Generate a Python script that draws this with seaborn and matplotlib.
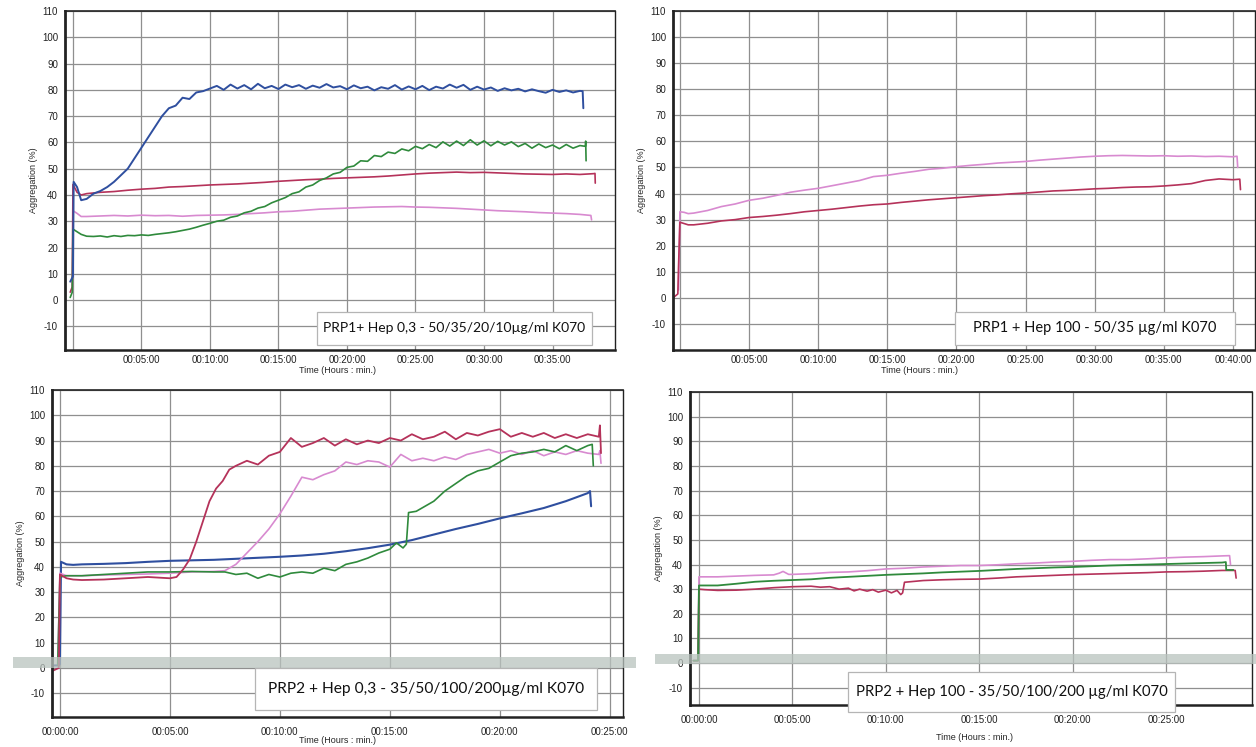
import numpy as np
import matplotlib
matplotlib.use("Agg")
import matplotlib.pyplot as plt
import seaborn as sns
from matplotlib.patches import Rectangle
from matplotlib.ticker import MultipleLocator

# -----------------------------
# Data (time in minutes, aggregation in %)
# -----------------------------
def grid(a, b, step=0.5):
    # regular sampling times used when reading the traces
    return [round(x, 2) for x in np.arange(a, b + step / 2, step)]

# Panel 1: PRP1 + Hep 0,3
p1_blue_t = [-0.2, 0.0, 0.05, 0.3, 0.6, 1.0] + grid(1.5, 37.0) + [37.2, 37.25]
p1_blue_v = [7, 9, 45, 43, 38, 38.5,
             40.5, 41.5, 43, 45, 47.5, 50, 54, 58, 62, 66, 70, 73, 74, 77, 76.5, 79, 79.5, 80.5,
             81.5, 80, 82, 80.5, 81.8, 80.2, 82.3, 80.6, 81.5, 80.3, 82, 81, 81.8, 80.4, 81.6, 80.8,
             82.2, 80.9, 81.4, 80.2, 81.7, 80.6, 81.2, 79.8, 81, 80.4, 81.8, 80.1, 81.3, 80.2, 81.5,
             79.9, 81.2, 80.5, 82, 80.8, 81.9, 80, 81.2, 80.1, 80.9, 79.6, 80.6, 79.8, 80.4, 79.4,
             80.2, 79.5, 78.9, 80, 79.2, 79.8, 79, 79.6,
             79.5, 73]
p1_green_t = [-0.2, -0.05, 0.0, 0.3, 0.6, 1.0] + grid(1.5, 37.0) + [37.4, 37.42, 37.45]
p1_green_v = [1, 3, 27, 26, 25, 24.3,
              24.2, 24.4, 24, 24.5, 24.2, 24.6, 24.5, 24.8, 24.6, 25, 25.3, 25.6, 26, 26.5, 27, 27.7,
              28.5, 29.2, 30, 30.4, 31.5, 32, 33.2, 33.8, 35, 35.6, 37, 38, 39, 40.5, 41.2, 43, 43.8,
              45.5, 46.5, 48, 48.6, 50.5, 51, 53, 52.8, 55, 54.6, 56.3, 55.8, 57.5, 56.8, 58.5, 57.6,
              59.2, 58, 60.2, 58.6, 60.5, 58.8, 61, 59, 60.6, 58.7, 60.4, 59, 60.2, 58.4, 59.6, 57.8,
              59.4, 58, 59, 57.6, 59.2, 57.8, 58.8,
              58.5, 60.5, 53]
p1_red_t = [-0.2, -0.05, 0.0, 0.3, 0.6] + grid(1, 38, 1) + [38.1, 38.12]
p1_red_v = [3, 5, 44, 41, 40,
            40.5, 41, 41.3, 41.8, 42.2, 42.5, 43, 43.2, 43.5, 43.8, 44, 44.2, 44.5, 44.8, 45.2,
            45.5, 45.8, 46, 46.3, 46.5, 46.7, 46.9, 47.2, 47.6, 48, 48.3, 48.5, 48.7, 48.5, 48.6,
            48.4, 48.2, 48, 47.9, 47.8, 48, 47.8, 48.1,
            48.2, 44.5]
p1_pink_t = [-0.05, 0.0, 0.3, 0.6] + grid(1, 37, 1) + [37.8, 37.85]
p1_pink_v = [3, 34, 33, 31.8,
             31.8, 32, 32.2, 32, 32.3, 32.1, 32.2, 31.9, 32.2, 32.3, 32.4, 32.6, 32.9, 33.2, 33.6,
             33.8, 34.2, 34.6, 34.8, 35, 35.2, 35.4, 35.5, 35.6, 35.4, 35.3, 35.1, 34.9, 34.6, 34.3,
             34, 33.8, 33.6, 33.3, 33.1, 32.9, 32.6,
             32.2, 30.5]

# Panel 2: PRP1 + Hep 100
p2_red_t = [-0.5, -0.15, -0.1, 0.0, 0.3, 0.6] + grid(1, 40, 1) + [40.5, 40.55]
p2_red_v = [0, 1.5, 12, 29, 28.5, 28,
            28, 28.6, 29.5, 30, 30.8, 31.2, 31.7, 32.3, 33, 33.5, 34, 34.6, 35.2, 35.7, 36, 36.6,
            37.1, 37.6, 38, 38.4, 38.8, 39.2, 39.5, 39.9, 40.2, 40.6, 41, 41.2, 41.5, 41.8, 42,
            42.3, 42.5, 42.6, 42.9, 43.3, 43.8, 45, 45.6, 45.3,
            45.5, 41.5]
p2_pink_t = [-0.1, 0.0, 0.3, 0.6] + grid(1, 40, 1) + [40.3, 40.35]
p2_pink_v = [3, 33, 32.8, 32.3,
             32.5, 33.5, 35, 36, 37.4, 38.2, 39.3, 40.5, 41.3, 42, 43, 44, 45, 46.5, 47, 47.8, 48.5,
             49.3, 49.7, 50.3, 50.8, 51.2, 51.7, 52, 52.3, 52.8, 53.2, 53.6, 54, 54.3, 54.5, 54.6,
             54.5, 54.4, 54.5, 54.3, 54.4, 54.2, 54.3, 54.1,
             54.3, 50]

# Panel 3: PRP2 + Hep 0,3
p3_blue_t = [-0.3, -0.05, 0.0, 0.05, 0.3, 0.6] + grid(1, 24, 1) + [24.1, 24.15]
p3_blue_v = [1, 1, 1.5, 42, 41, 40.8,
             41, 41.2, 41.5, 42, 42.4, 42.6, 42.8, 43.2, 43.6, 44, 44.5, 45.2, 46.2, 47.4, 48.8,
             50.6, 52.8, 55, 57, 59.2, 61.2, 63.3, 66, 69.2,
             70, 64]
p3_red_t = [-0.3, -0.05, 0.0, 0.3, 0.6, 1, 2, 3, 4, 5, 5.3, 5.6, 5.9, 6.2, 6.5, 6.8, 7.1, 7.4,
            7.7, 8.0] + grid(8.5, 24.5) + [24.55, 24.6]
p3_red_v = [-1, 0, 37, 35.5, 35, 34.8, 35, 35.5, 36, 35.5, 36, 39, 43, 50, 58, 66, 71, 74, 78.5, 80,
            82, 80.5, 84, 85.5, 91, 87.5, 89, 91, 88, 90.5, 88.5, 90, 89, 91, 90, 92.5, 90.5, 91.5,
            93.5, 90.5, 93, 92, 93.5, 94.5, 91.5, 93, 91.5, 93, 91, 92.5, 91, 92.5, 91.5,
            96, 85]
p3_pink_t = [-0.1, 0.0, 0.3, 1, 2, 3, 4, 5, 6, 7, 7.5] + grid(8, 24.5) + [24.55, 24.6]
p3_pink_v = [1, 37.5, 36.5, 36.5, 36.8, 37, 37.2, 37.5, 38, 38.2, 38.5,
             41, 45.5, 50, 55, 61, 68, 75.5, 74.5, 76.5, 78, 81.5, 80.5, 82, 81.5, 79.5, 84.5, 82,
             83, 82, 83.5, 82.5, 84.5, 85.5, 86.5, 85, 86, 84.5, 86, 84, 85.5, 84.5, 86, 85, 84.5,
             86, 81]
p3_green_t = [-0.1, 0.0, 0.3, 1, 2, 3, 4, 5, 6, 7, 7.5, 8, 8.5, 9, 9.5, 10, 10.5, 11, 11.5, 12,
              12.5, 13, 13.5, 14, 14.5, 15, 15.3, 15.6, 15.75, 15.85, 16.2] + grid(16.5, 24) + [24.2, 24.25]
p3_green_v = [1, 36, 36.5, 36.5, 37, 37.5, 38, 38, 38.2, 38, 38, 37, 37.5, 35.5, 37, 36, 37.5, 38,
              37.5, 39.5, 38.5, 41, 42, 43.5, 45.5, 47, 49.5, 47.5, 49, 61.5, 62,
              63.5, 66, 70, 73, 76, 78, 79, 81.5, 84, 85, 85.5, 86.5, 85.5, 88, 86, 88,
              88.5, 80]

# Panel 4: PRP2 + Hep 100
p4_pink_t = [-0.3, -0.05, 0.0, 0.3, 1, 2, 3, 4, 4.3, 4.5, 4.8] + grid(5, 28, 1) + [28.4, 28.45]
p4_pink_v = [1, 1, 35, 35, 35, 35.3, 35.6, 35.8, 36.5, 37.2, 36,
             36, 36.3, 36.8, 37, 37.5, 38.2, 38.5, 39, 39.3, 39.6, 39.6, 39.9, 40.3, 40.6, 41, 41.3,
             41.7, 42, 42, 42.3, 42.7, 43, 43.2, 43.5,
             43.6, 40]
p4_green_t = [-0.3, -0.05, 0.0, 0.3] + grid(1, 28, 1) + [28.2, 28.22, 28.6]
p4_green_v = [1, 1, 31.5, 31.5,
              31.5, 32.2, 33, 33.4, 33.7, 34, 34.6, 35, 35.4, 35.8, 36.1, 36.4, 36.8, 37.1, 37.4,
              37.8, 38.2, 38.5, 38.8, 39, 39.3, 39.6, 39.8, 40, 40.2, 40.4, 40.6, 40.8,
              41, 37.8, 37.8]
p4_red_t = [-0.3, -0.05, 0.0, 0.3, 1, 2, 3, 4, 5, 6, 6.5, 7, 7.5, 8, 8.3, 8.6, 9, 9.3, 9.6, 10,
            10.3, 10.6, 10.8, 10.9, 11] + grid(12, 28, 1) + [28.7, 28.75]
p4_red_v = [1, 1, 30, 29.8, 29.5, 29.6, 30, 30.6, 31, 31.2, 30.8, 31, 30, 30.4, 29.3, 30, 29.2,
            29.8, 28.8, 29.6, 28.5, 29.5, 27.8, 28.5, 32.8,
            33.5, 33.8, 34, 34.1, 34.5, 35, 35.3, 35.6, 35.9, 36.1, 36.3, 36.5, 36.7, 37, 37.1,
            37.3, 37.6,
            37.6, 34.5]

titles = ["PRP1+ Hep 0,3 - 50/35/20/10\u00b5g/ml K070",
          "PRP1 + Hep 100 - 50/35 \u00b5g/ml K070",
          "PRP2 + Hep 0,3 - 35/50/100/200\u00b5g/ml K070",
          "PRP2 + Hep 100 - 35/50/100/200 \u00b5g/ml K070"]

BLUE = "#2f4f9f"
RED = "#b5325a"
PINK = "#d88ad0"
GREEN = "#2f8a3c"

# -----------------------------
# Figure
# -----------------------------
sns.set_style("white")
plt.rcParams['font.family'] = ['Liberation Sans', 'DejaVu Sans']
plt.rcParams['axes.unicode_minus'] = False

W, H = 1256, 747
fig = plt.figure(figsize=(W / 100, H / 100), dpi=100)


def px_axes(left, top, right, bottom):
    return fig.add_axes([left / W, 1 - bottom / H, (right - left) / W, (bottom - top) / H])


def style(ax, xlim, ylim, xticks, label_zero, xlab_xy, tick_len, pad):
    ax.set_xlim(xlim)
    ax.set_ylim(ylim)
    ax.set_yticks(range(-10, 111, 10))
    ax.yaxis.set_minor_locator(MultipleLocator(2))
    ax.set_xticks(xticks)
    ax.set_xticklabels([("" if (t == 0 and not label_zero) else "00:%02d:00" % t) for t in xticks])
    ax.xaxis.set_minor_locator(MultipleLocator(1))
    ax.grid(True, which='major', color='#8f8f8f', lw=0.9)
    ax.set_axisbelow(True)
    ax.tick_params(axis='both', which='major', labelsize=7, colors='#222222', length=4, width=0.8,
                   direction='out')
    ax.tick_params(axis='x', which='major', length=tick_len, pad=pad)
    ax.tick_params(axis='y', which='major', pad=1)
    ax.tick_params(axis='both', which='minor', length=2, width=0.6, colors='#444444')
    for side, lw in [('left', 2.0), ('bottom', 1.8), ('top', 1.2), ('right', 1.0)]:
        ax.spines[side].set_visible(True)
        ax.spines[side].set_color('#222222')
        ax.spines[side].set_linewidth(lw)
    ax.set_ylabel("Aggregation (%)", fontsize=6.5, labelpad=3)
    ax.set_xlabel("Time (Hours : min.)", fontsize=6.5)
    ax.xaxis.set_label_coords(*xlab_xy)


def trace(ax, t, v, color, lw=1.2):
    sns.lineplot(x=t, y=v, ax=ax, color=color, lw=lw, estimator=None, sort=False, legend=False)


def box(text, left, top, right, bottom, fs):
    fig.add_artist(Rectangle((left / W, 1 - bottom / H), (right - left) / W, (bottom - top) / H,
                             transform=fig.transFigure, fc='white', ec='#b5b5b5', lw=0.9, zorder=5))
    fig.text((left + right) / 2 / W, 1 - (top + bottom) / 2 / H, text, ha='center', va='center',
             fontsize=fs, family=['Lato', 'DejaVu Sans'], color='#111111', zorder=6)


# Panel 1
ax1 = px_axes(65, 11, 615, 350)
trace(ax1, p1_pink_t, p1_pink_v, PINK)
trace(ax1, p1_red_t, p1_red_v, RED)
trace(ax1, p1_green_t, p1_green_v, GREEN)
trace(ax1, p1_blue_t, p1_blue_v, BLUE, 1.4)
style(ax1, (-0.58, 39.56), (-19, 110), range(0, 36, 5), False, (0.496, -0.048), 3, 0.5)

# Panel 2
ax2 = px_axes(673, 11, 1255, 350)
trace(ax2, p2_pink_t, p2_pink_v, PINK)
trace(ax2, p2_red_t, p2_red_v, RED)
style(ax2, (-0.5, 41.6), (-20, 110), range(0, 41, 5), False, (0.423, -0.048), 3, 0.5)

# Panel 3
ax3 = px_axes(52, 390, 623, 717)
trace(ax3, p3_blue_t, p3_blue_v, BLUE, 1.5)
trace(ax3, p3_pink_t, p3_pink_v, PINK)
trace(ax3, p3_green_t, p3_green_v, GREEN)
trace(ax3, p3_red_t, p3_red_v, RED, 1.3)
style(ax3, (-0.36, 25.6), (-19.4, 110), range(0, 26, 5), True, (0.5, -0.058), 4, 3)

# Panel 4
ax4 = px_axes(690, 392, 1252, 705)
trace(ax4, p4_pink_t, p4_pink_v, PINK)
trace(ax4, p4_red_t, p4_red_v, RED)
trace(ax4, p4_green_t, p4_green_v, GREEN, 1.3)
style(ax4, (-0.48, 29.6), (-17, 110), range(0, 26, 5), True, (0.507, -0.089), 4, 3)

# annotation boxes
box(titles[0], 317, 312, 592, 345, 10)
box(titles[1], 955, 312, 1235, 345, 10.5)
box(titles[2], 255, 668, 597, 710, 11.2)
box(titles[3], 848, 672, 1175, 712, 10.7)

# grey scan band across the lower panels
for (l, t, r, b) in [(13, 657, 636, 668), (655, 654, 1256, 664)]:
    fig.add_artist(Rectangle((l / W, 1 - b / H), (r - l) / W, (b - t) / H, transform=fig.transFigure,
                             fc='#b9c3be', ec='none', alpha=0.75, zorder=4))

fig.savefig("out.png", dpi=100, facecolor='white')
